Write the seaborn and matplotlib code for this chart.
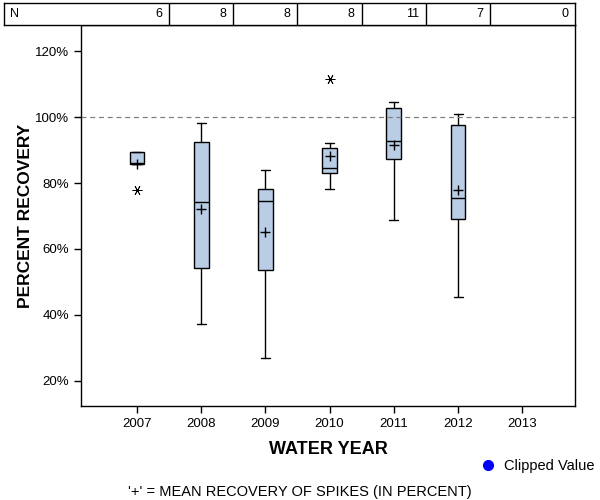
"""
Percent recovery of spikes by water year
"""
import matplotlib
matplotlib.use('Agg')
import matplotlib.pyplot as plt
import seaborn as sns
import pandas as pd
import numpy as np
from matplotlib.ticker import PercentFormatter
from matplotlib.lines import Line2D

# data (percent)
years = ['2007', '2008', '2009', '2010', '2011', '2012', '2013']
n_obs = [6, 8, 8, 8, 11, 7, 0]
box_years = ['2007', '2008', '2009', '2010', '2011', '2012']
whisker_low = [85.8, 37.2, 27.0, 78.2, 68.7, 45.4]
q1 = [85.8, 54.2, 53.5, 82.9, 87.2, 69.0]
median = [86.0, 74.2, 74.5, 84.5, 92.7, 75.5]
q3 = [89.3, 92.3, 78.1, 90.5, 102.6, 97.5]
whisker_high = [89.3, 98.3, 84.0, 92.0, 104.6, 100.8]
means = [85.8, 72.0, 65.2, 88.1, 91.5, 77.8]
outliers = [[77.9], [], [], [111.4], [], []]

BOX_COLOR = '#B9CDE5'

sns.set_style("ticks")
plt.rcParams['font.family'] = ['Liberation Sans', 'DejaVu Sans']
plt.rcParams.update({'text.color': 'black', 'axes.labelcolor': 'black',
                     'xtick.color': 'black', 'ytick.color': 'black'})

fig = plt.figure(figsize=(6, 5), dpi=100)
ax = fig.add_axes([81 / 600, 1 - 406 / 500, 494 / 600, 381 / 500])

xlim = (-0.87, 6.82)
px_per_unit = 494 / (xlim[1] - xlim[0])

# box plots from summary stats
stats = []
for i, yr in enumerate(box_years):
    stats.append({'label': yr, 'whislo': whisker_low[i], 'q1': q1[i], 'med': median[i],
                  'q3': q3[i], 'whishi': whisker_high[i], 'fliers': outliers[i]})
pos = [years.index(y) for y in box_years]
ax.bxp(stats, positions=pos, widths=0.23, capwidths=0.14, patch_artist=True,
       showfliers=True, manage_ticks=False,
       boxprops=dict(facecolor=BOX_COLOR, edgecolor='black', linewidth=1),
       medianprops=dict(color='black', linewidth=1),
       whiskerprops=dict(color='black', linewidth=1),
       capprops=dict(color='black', linewidth=1),
       flierprops=dict(marker=(6, 2, 90), markersize=7, markeredgecolor='black',
                       markeredgewidth=0.6, linestyle='none'))

# mean markers
mean_df = pd.DataFrame({'pos': pos, 'mean': means})
sns.scatterplot(data=mean_df, x='pos', y='mean', marker='+', s=60, color='black',
                linewidth=1, ax=ax, legend=False, zorder=5)

ax.axhline(100, color='gray', linestyle='--', linewidth=0.9, dashes=(4, 3))

ax.set_xlim(*xlim)
ax.set_ylim(12.4, 127.9)
ax.set_xticks(range(len(years)))
ax.set_xticklabels(years)
ax.set_yticks([20, 40, 60, 80, 100, 120])
ax.yaxis.set_major_formatter(PercentFormatter(xmax=100, decimals=0))
ax.tick_params(axis='both', labelsize=9.5, length=5, width=1, color='black', direction='out')
for s in ax.spines.values():
    s.set_color('black')
    s.set_linewidth(1)
ax.set_xlabel('WATER YEAR', fontsize=13, fontweight='bold', labelpad=8)
ax.set_ylabel('PERCENT RECOVERY', fontsize=12.5, fontweight='bold', labelpad=1.5)

# N table on top
tab_left = 4
tax = fig.add_axes([tab_left / 600, 1 - 25 / 500, (575 - tab_left) / 600, 22 / 500])
tax.set_xlim(xlim[0] - (81 - tab_left) / px_per_unit, xlim[1])
tax.set_ylim(0, 1)
tax.set_xticks([])
tax.set_yticks([])
for s in tax.spines.values():
    s.set_color('black')
    s.set_linewidth(1)
for i in range(len(years) - 1):
    tax.axvline(i + 0.5, color='black', linewidth=1)
tax.text(tax.get_xlim()[0] + 6 / px_per_unit, 0.5, 'N', ha='left', va='center', fontsize=9)
for i, n in enumerate(n_obs):
    right = xlim[1] if i == len(years) - 1 else i + 0.5
    tax.text(right - 7 / px_per_unit, 0.5, str(n), ha='right', va='center', fontsize=9)

# legend and footnote
handle = Line2D([], [], marker='o', color='blue', linestyle='none', markersize=7)
fig.legend([handle], ['Clipped Value'], loc='center left', bbox_to_anchor=(473 / 600, 1 - 466 / 500),
           frameon=False, fontsize=10.5, handletextpad=0.5, borderaxespad=0, handlelength=1.2)
fig.text(300 / 600, 1 - 492 / 500, "'+' = MEAN RECOVERY OF SPIKES (IN PERCENT)",
         ha='center', va='center', fontsize=10.5)

plt.savefig('out.png', dpi=100)
plt.close()
